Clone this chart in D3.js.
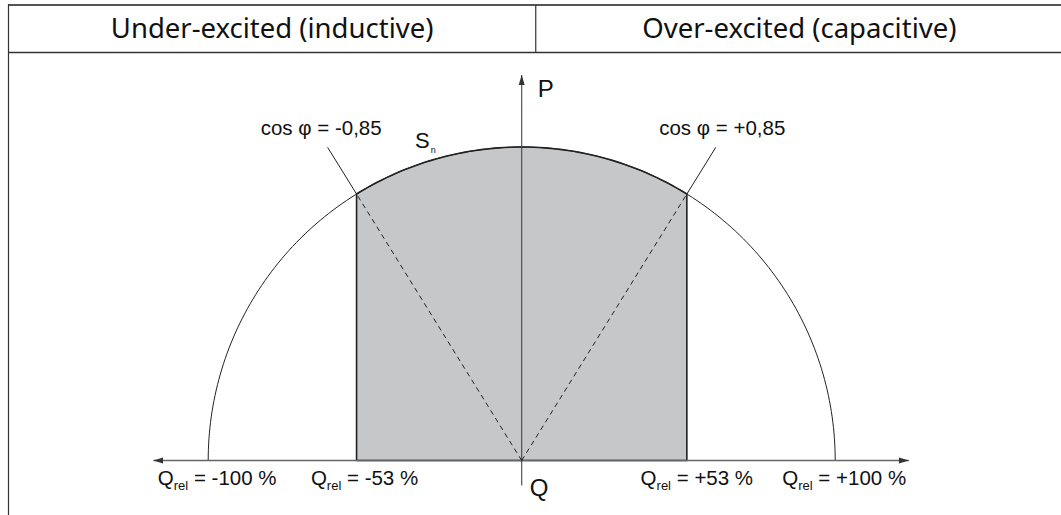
<!DOCTYPE html>
<html lang="en">
<head>
<meta charset="UTF-8">
<title>PQ diagram</title>
<style>
  body { margin: 0; padding: 0; background: white; }
  svg text { font-family: "Liberation Sans", Arial, sans-serif; fill: #111; }
  .head { font-family: "Noto Sans", sans-serif; font-size: 27.5px; }
</style>
</head>
<body>
<script src="https://cdn.jsdelivr.net/npm/d3@7"></script>
<script>
// data
var headers = ["Under-excited (inductive)", "Over-excited (capacitive)"];
var qTicks = [-100, -53, 53, 100];
var qLabels = ["-100 %", "-53 %", "+53 %", "+100 %"];
var cosPhi = [-0.85, 0.85];
var cosLabels = ["cos \u03c6 = -0,85", "cos \u03c6 = +0,85"];

var W = 1061, H = 515;
var cx = 521.7, oy = 460.5, R = 313.5;

var svg = d3.select("body").append("svg")
  .attr("width", W).attr("height", H);

var x = d3.scaleLinear().domain([-100, 100]).range([cx - R, cx + R]);
var y = d3.scaleLinear().domain([0, 100]).range([oy, oy - R]);

// header table
var headX = d3.scaleBand().domain(headers).range([8.5, 1063]);
svg.append("line").attr("x1", 8).attr("x2", W).attr("y1", 5).attr("y2", 5)
  .attr("stroke", "#555").attr("stroke-width", 2);
svg.append("line").attr("x1", 8.5).attr("x2", 8.5).attr("y1", 4).attr("y2", H)
  .attr("stroke", "#333").attr("stroke-width", 1.2);
svg.append("line").attr("x1", 8).attr("x2", W).attr("y1", 52.5).attr("y2", 52.5)
  .attr("stroke", "#333").attr("stroke-width", 1.5);
svg.append("line").attr("x1", headX(headers[1])).attr("x2", headX(headers[1]))
  .attr("y1", 5).attr("y2", 52).attr("stroke", "#333").attr("stroke-width", 1.2);
svg.selectAll("text.head").data(headers).enter().append("text")
  .attr("class", "head")
  .attr("x", function(d) { return headX(d) + headX.bandwidth() / 2; })
  .attr("y", 38)
  .attr("text-anchor", "middle")
  .text(function(d) { return d; });

// arrow marker
svg.append("defs").append("marker")
  .attr("id", "arr").attr("viewBox", "0 0 10 10")
  .attr("refX", 10).attr("refY", 5)
  .attr("markerWidth", 10).attr("markerHeight", 10)
  .attr("markerUnits", "userSpaceOnUse")
  .attr("orient", "auto")
  .append("path").attr("d", "M0,2 L10,5 L0,8 Z").attr("fill", "#333");

// points on the circle for cos phi
var pts = cosPhi.map(function(c) {
  var s = Math.sqrt(1 - c * c) * 100 * Math.sign(c);
  return { q: s, p: Math.abs(c) * 100 };
});

// shaded area
var a0 = Math.atan2(pts[0].p, pts[0].q), a1 = Math.atan2(pts[1].p, pts[1].q);
var arcPts = d3.range(0, 61).map(function(i) {
  var a = a0 + (a1 - a0) * i / 60;
  return [x(100 * Math.cos(a)), y(100 * Math.sin(a))];
});
var area = [[x(pts[0].q), y(0)]].concat(arcPts).concat([[x(pts[1].q), y(0)]]);
svg.append("path")
  .attr("d", d3.line()(area) + "Z")
  .attr("fill", "#c6c7c9").attr("stroke", "#222").attr("stroke-width", 1.6);

// full circle half
var half = d3.range(0, 181).map(function(i) {
  var a = Math.PI * i / 180;
  return [x(100 * Math.cos(a)), y(100 * Math.sin(a))];
});
svg.append("path").attr("d", d3.line()(half))
  .attr("fill", "none").attr("stroke", "#222").attr("stroke-width", 1);

// axes
svg.append("line").attr("x1", x(0)).attr("x2", x(-117.5))
  .attr("y1", y(0)).attr("y2", y(0))
  .attr("stroke", "#666").attr("stroke-width", 1.3).attr("marker-end", "url(#arr)");
svg.append("line").attr("x1", x(0)).attr("x2", x(123.5))
  .attr("y1", y(0)).attr("y2", y(0))
  .attr("stroke", "#666").attr("stroke-width", 1.3).attr("marker-end", "url(#arr)");
svg.append("line").attr("x1", x(0)).attr("x2", x(0))
  .attr("y1", y(-8)).attr("y2", y(123))
  .attr("stroke", "#444").attr("stroke-width", 1.1).attr("marker-end", "url(#arr)");

// dashed lines and leaders
svg.selectAll("line.dash").data(pts).enter().append("line")
  .attr("class", "dash")
  .attr("x1", x(0)).attr("y1", y(0))
  .attr("x2", function(d) { return x(d.q); })
  .attr("y2", function(d) { return y(d.p); })
  .attr("stroke", "#222").attr("stroke-width", 1).attr("stroke-dasharray", "5,4");
svg.selectAll("line.lead").data(pts).enter().append("line")
  .attr("class", "lead")
  .attr("x1", function(d) { return x(d.q); })
  .attr("y1", function(d) { return y(d.p); })
  .attr("x2", function(d) { return x(d.q * 1.175); })
  .attr("y2", function(d) { return y(d.p * 1.175); })
  .attr("stroke", "#222").attr("stroke-width", 1);

svg.selectAll("text.cos").data(pts).enter().append("text")
  .attr("class", "cos")
  .attr("x", function(d) { return x(d.q * 1.175) + Math.sign(d.q) * 6.5; })
  .attr("y", function(d) { return y(d.p * 1.175) - 12; })
  .attr("text-anchor", "middle")
  .attr("font-size", 20.5)
  .text(function(d, i) { return cosLabels[i]; });

// S_n
var sn = svg.append("text").attr("x", x(-34)).attr("y", y(99.8)).attr("font-size", 22);
sn.append("tspan").text("S");
sn.append("tspan").attr("dy", 5).attr("dx", 1).attr("font-size", 9).text("n");

// axis labels
svg.append("text").attr("x", x(0) + 16).attr("y", y(116)).attr("font-size", 24).text("P");
svg.append("text").attr("x", x(0) + 8).attr("y", y(0) + 35.5).attr("font-size", 24).text("Q");

// Q_rel labels
var ql = svg.selectAll("text.ql").data(qTicks).enter().append("text")
  .attr("class", "ql")
  .attr("x", function(d) { return x(d) + 9; })
  .attr("y", y(0) + 24)
  .attr("text-anchor", "middle")
  .attr("font-size", 20.5);
ql.append("tspan").text("Q");
ql.append("tspan").attr("dy", 5).attr("font-size", 13).text("rel");
ql.append("tspan").attr("dy", -5).text(function(d, i) { return " = " + qLabels[i]; });
</script>
</body>
</html>
